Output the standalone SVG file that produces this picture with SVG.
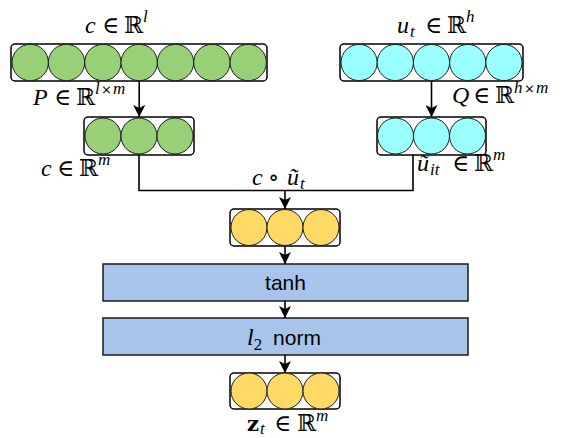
<svg xmlns="http://www.w3.org/2000/svg" width="563" height="438" viewBox="0 0 563 438">
  <defs>
    <marker id="ah" viewBox="0 0 12 12" refX="12" refY="6" markerWidth="12" markerHeight="12" orient="auto" markerUnits="userSpaceOnUse">
      <path d="M0,0 L12,6 L0,12 L3,6 Z" fill="#000"/>
    </marker>
  </defs>
  <style>
    .bar { fill: #fff; stroke: #000; stroke-width: 1.5; }
    .g { fill: #97d077; stroke: #1a1a1a; stroke-width: 1; }
    .c { fill: #99ffff; stroke: #1a1a1a; stroke-width: 1; }
    .y { fill: #ffd966; stroke: #1a1a1a; stroke-width: 1; }
    .box { fill: #a9c4eb; stroke: #1a1a1a; stroke-width: 1.5; }
    .wire { fill: none; stroke: #000; stroke-width: 1.6; }
    .lbl { font-family: "Liberation Sans", Arial, sans-serif; font-size: 21px; fill: #000; text-anchor: middle; }
    .m { font-family: "Liberation Serif", "DejaVu Serif", serif; font-style: italic; font-size: 24px; fill: #000; }
    .sym { font-family: "DejaVu Serif", serif; font-style: normal; font-size: 23px; }
    .sc { font-size: 17px; }
    .op { font-family: "DejaVu Serif", serif; font-style: normal; font-size: 13px; }
    .bf { font-family: "DejaVu Serif", serif; font-style: normal; font-weight: bold; font-size: 21px; }
  </style>

  <!-- input vector c, length l -->
  <g id="c-input">
    <rect class="bar" x="11" y="44" width="256" height="37" rx="4"/>
    <circle class="g" cx="30.2" cy="62.5" r="18.2"/>
    <circle class="g" cx="66.5" cy="62.5" r="18.2"/>
    <circle class="g" cx="102.9" cy="62.5" r="18.2"/>
    <circle class="g" cx="139.2" cy="62.5" r="18.2"/>
    <circle class="g" cx="175.5" cy="62.5" r="18.2"/>
    <circle class="g" cx="211.9" cy="62.5" r="18.2"/>
    <circle class="g" cx="248.2" cy="62.5" r="18.2"/>
    <text class="m" y="33"><tspan x="85">c</tspan><tspan class="sym" x="102">∈</tspan><tspan class="sym" x="124">ℝ</tspan><tspan class="sc" x="143" y="22">l</tspan></text>
  </g>

  <!-- input vector u_t, length h -->
  <g id="u-input">
    <rect class="bar" x="340" y="44" width="183" height="37" rx="4"/>
    <circle class="c" cx="359.1" cy="62.5" r="18.1"/>
    <circle class="c" cx="395.3" cy="62.5" r="18.1"/>
    <circle class="c" cx="431.5" cy="62.5" r="18.1"/>
    <circle class="c" cx="467.7" cy="62.5" r="18.1"/>
    <circle class="c" cx="503.9" cy="62.5" r="18.1"/>
    <text class="m" y="33"><tspan x="397">u</tspan><tspan class="sc" x="410" y="37">t</tspan><tspan class="sym" x="425" y="33">∈</tspan><tspan class="sym" x="447">ℝ</tspan><tspan class="sc" x="466" y="22">h</tspan></text>
  </g>

  <!-- projected c, length m -->
  <g id="c-proj">
    <rect class="bar" x="84" y="117" width="110" height="38" rx="4"/>
    <circle class="g" cx="103" cy="136" r="18"/>
    <circle class="g" cx="139" cy="136" r="18"/>
    <circle class="g" cx="175" cy="136" r="18"/>
    <text class="m" y="176"><tspan x="41">c</tspan><tspan class="sym" x="57">∈</tspan><tspan class="sym" x="79">ℝ</tspan><tspan class="sc" x="98" y="165">m</tspan></text>
  </g>

  <!-- projected u, length m -->
  <g id="u-proj">
    <rect class="bar" x="377" y="117" width="109" height="38" rx="4"/>
    <circle class="c" cx="395.5" cy="136" r="18"/>
    <circle class="c" cx="431.5" cy="136" r="18"/>
    <circle class="c" cx="467.5" cy="136" r="18"/>
    <text class="m" y="171"><tspan x="417">ũ</tspan><tspan class="sc" x="430" y="175">it</tspan><tspan class="sym" x="452" y="171">∈</tspan><tspan class="sym" x="474">ℝ</tspan><tspan class="sc" x="493" y="160">m</tspan></text>
  </g>

  <!-- element-wise product -->
  <g id="product">
    <rect class="bar" x="230" y="209" width="110" height="37" rx="4"/>
    <circle class="y" cx="249" cy="227.5" r="18"/>
    <circle class="y" cx="285" cy="227.5" r="18"/>
    <circle class="y" cx="321" cy="227.5" r="18"/>
  </g>

  <g id="tanh">
    <rect class="box" x="103" y="264" width="365" height="37"/>
    <text class="lbl" x="285.5" y="290">tanh</text>
  </g>

  <g id="l2norm">
    <rect class="box" x="103" y="318" width="365" height="37"/>
    <text class="m" x="247" y="345" font-size="26px">l<tspan class="sc" font-style="normal" y="350">2</tspan></text>
    <text class="lbl" x="297" y="345">norm</text>
  </g>

  <!-- output embedding z_t -->
  <g id="z-output">
    <rect class="bar" x="230" y="373" width="110" height="36" rx="4"/>
    <circle class="y" cx="249" cy="391" r="18"/>
    <circle class="y" cx="285" cy="391" r="18"/>
    <circle class="y" cx="321" cy="391" r="18"/>
    <text class="m" y="431"><tspan class="bf" x="247">z</tspan><tspan class="sc" x="260" y="434">t</tspan><tspan class="sym" x="274" y="431">∈</tspan><tspan class="sym" x="297">ℝ</tspan><tspan class="sc" x="316" y="421">m</tspan></text>
  </g>

  <g id="connectors">
    <line class="wire" x1="139.2" y1="81" x2="139.2" y2="117" marker-end="url(#ah)"/>
    <line class="wire" x1="431.5" y1="81" x2="431.5" y2="117" marker-end="url(#ah)"/>
    <polyline class="wire" points="139,155 139,190.5 413,190.5 413,155"/>
    <line class="wire" x1="285" y1="190.5" x2="285" y2="209" marker-end="url(#ah)"/>
    <line class="wire" x1="285" y1="246" x2="285" y2="264" marker-end="url(#ah)"/>
    <line class="wire" x1="285" y1="301" x2="285" y2="318" marker-end="url(#ah)"/>
    <line class="wire" x1="285" y1="355" x2="285" y2="373" marker-end="url(#ah)"/>
    <!-- projection labels -->
    <text class="m" y="105"><tspan x="33">P</tspan><tspan class="sym" x="54">∈</tspan><tspan class="sym" x="76">ℝ</tspan><tspan class="sc" x="95" y="94">l</tspan><tspan class="op" x="101">×</tspan><tspan class="sc" x="113">m</tspan></text>
    <text class="m" y="103"><tspan x="452">Q</tspan><tspan class="sym" x="473">∈</tspan><tspan class="sym" x="495">ℝ</tspan><tspan class="sc" x="514" y="93">h</tspan><tspan class="op" x="524">×</tspan><tspan class="sc" x="536">m</tspan></text>
    <text class="m" y="185"><tspan x="252">c</tspan><tspan class="sym" x="268">∘</tspan><tspan x="287">ũ</tspan><tspan class="sc" x="300" y="189">t</tspan></text>
  </g>
</svg>
